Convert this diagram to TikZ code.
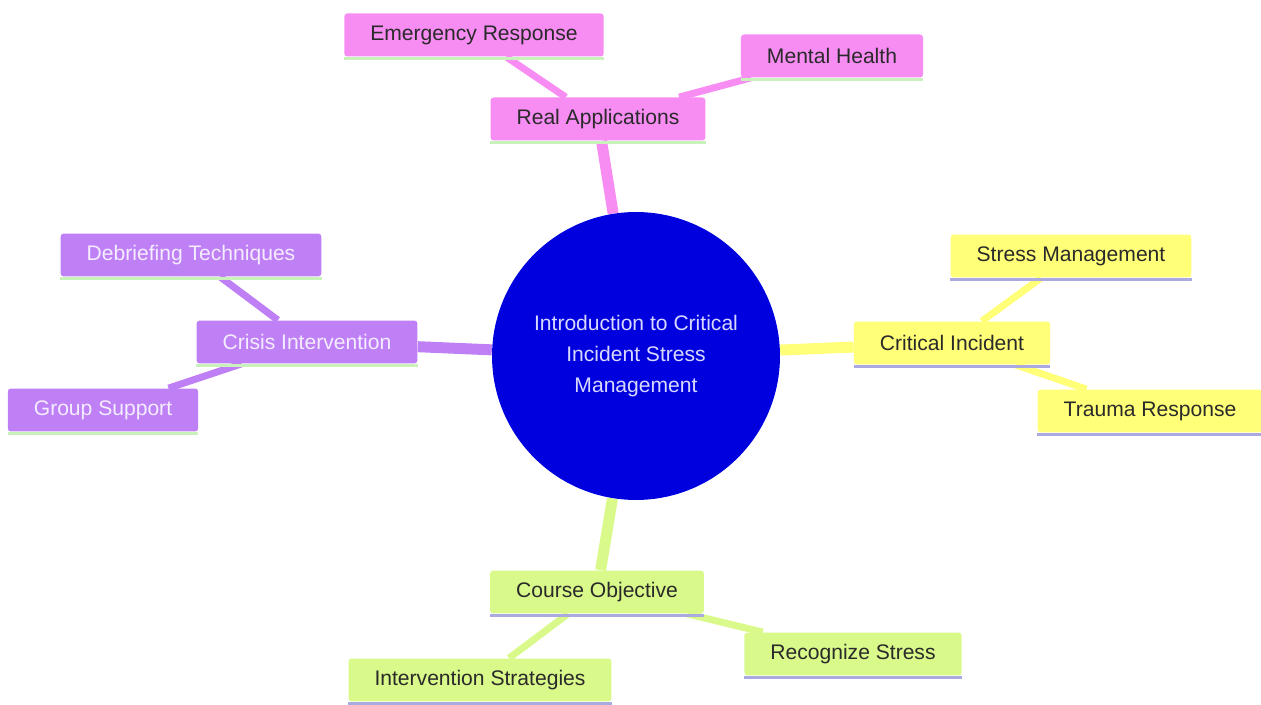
\documentclass[tikz,border=0pt]{standalone}
\usepackage{fontspec}
\setmainfont{Liberation Sans}
\usetikzlibrary{backgrounds}
\definecolor{pinkcolor}{HTML}{F78CF3}
\definecolor{purplecolor}{HTML}{BF80F6}
\definecolor{yellowcolor}{HTML}{FFFF78}
\definecolor{limecolor}{HTML}{D9F98A}
\definecolor{rootcolor}{HTML}{0000DF}
\definecolor{roottext}{HTML}{D8D8FF}
\definecolor{lighttext}{HTML}{F4ECFF}
\definecolor{darktext}{HTML}{2A2A2A}
\definecolor{greenline}{HTML}{C8F2BA}
\definecolor{lavenderline}{HTML}{ABAAE0}

\begin{document}
\begin{tikzpicture}[x=0.02cm, y=-0.02cm,
  topic/.style={rectangle, rounded corners=0.06cm, minimum height=0.86cm, inner xsep=0.52cm, font=\fontsize{12pt}{14pt}\selectfont},
  pinktopic/.style={topic, fill=pinkcolor, text=darktext},
  purpletopic/.style={topic, fill=purplecolor, text=lighttext},
  yellowtopic/.style={topic, fill=yellowcolor, text=darktext},
  limetopic/.style={topic, fill=limecolor, text=darktext},
  mainedge/.style={line width=0.22cm},
  subedge/.style={line width=0.14cm},
  underline/.style={line width=0.06cm}]%
\useasboundingbox (0,0) rectangle (1261,705);%
\node[circle, minimum size=5.76cm, fill=rootcolor, text=roottext, align=center, font=\fontsize{12pt}{17.6pt}\selectfont] (root) at (636,356) {Introduction to Critical\\Incident Stress\\Management};%
% real applications
\node[pinktopic] (realapp) at (598,119) {Real Applications};%
\node[pinktopic] (emergency) at (474,35) {Emergency Response};%
\node[pinktopic] (mentalhealth) at (832,56) {Mental Health};%
% crisis intervention
\node[purpletopic] (crisis) at (307,342) {Crisis Intervention};%
\node[purpletopic] (debriefing) at (191,255) {Debriefing Techniques};%
\node[purpletopic] (groupsupport) at (103,410) {Group Support};%
% critical incident
\node[yellowtopic] (critical) at (952,343) {Critical Incident};%
\node[yellowtopic] (stressmgmt) at (1071,256) {Stress Management};%
\node[yellowtopic] (trauma) at (1150,411) {Trauma Response};%
% course objective
\node[limetopic] (course) at (597,592) {Course Objective};%
\node[limetopic] (interventions) at (480,680) {Intervention Strategies};%
\node[limetopic] (recognize) at (853,654) {Recognize Stress};%
\begin{scope}[on background layer]
\draw[mainedge, pinkcolor] (root) -- (realapp);%
\draw[subedge, pinkcolor] (realapp) -- (emergency);%
\draw[subedge, pinkcolor] (realapp) -- (mentalhealth);%
\draw[mainedge, purplecolor] (root) -- (crisis);%
\draw[subedge, purplecolor] (crisis) -- (debriefing);%
\draw[subedge, purplecolor] (crisis) -- (groupsupport);%
\draw[mainedge, yellowcolor] (root) -- (critical);%
\draw[subedge, yellowcolor] (critical) -- (stressmgmt);%
\draw[subedge, yellowcolor] (critical) -- (trauma);%
\draw[mainedge, limecolor] (root) -- (course);%
\draw[subedge, limecolor] (course) -- (interventions);%
\draw[subedge, limecolor] (course) -- (recognize);%
\end{scope}
\foreach \n in {realapp, emergency, mentalhealth, crisis, debriefing, groupsupport}
  \draw[underline, greenline] ([yshift=-0.03cm]\n.south west) -- ([yshift=-0.03cm]\n.south east);%
\foreach \n in {critical, stressmgmt, trauma, course, interventions, recognize}
  \draw[underline, lavenderline] ([yshift=-0.03cm]\n.south west) -- ([yshift=-0.03cm]\n.south east);%
\end{tikzpicture}
\end{document}
